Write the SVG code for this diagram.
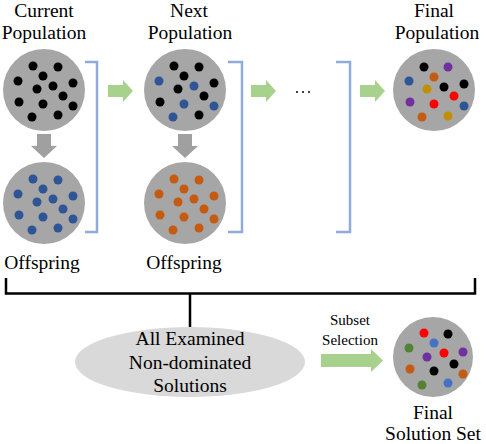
<svg xmlns="http://www.w3.org/2000/svg" width="486" height="444" viewBox="0 0 486 444">
<defs>
<style>
.t{font-family:"Liberation Serif","Times New Roman",Tinos,Times,"Nimbus Roman","Nimbus Roman No9 L",FreeSerif,"DejaVu Serif","Noto Serif",serif;font-size:19.5px;fill:#000;text-anchor:middle}
.s{font-family:"Liberation Serif","Times New Roman",Tinos,Times,"Nimbus Roman","Nimbus Roman No9 L",FreeSerif,"DejaVu Serif","Noto Serif",serif;font-size:15px;fill:#000;text-anchor:middle}
.pop{fill:#a6a6a6}
.k{fill:#000}.b{fill:#2f5597}.o{fill:#c55a11}.p{fill:#7030a0}.g{fill:#bf9000}.r{fill:#ff0000}.gr{fill:#548235}.lb{fill:#4472c4}
.br{fill:none;stroke:#8faadc;stroke-width:2.5}
.ga{fill:#a9d18e}
.da{fill:#a0a0a0}
</style>
<g id="dots13">
<circle cx="-11" cy="-24" r="4.5"/><circle cx="14" cy="-23" r="4.5"/><circle cx="-1" cy="-14" r="4.5"/>
<circle cx="-26" cy="-9" r="4.5"/><circle cx="29" cy="-7" r="4.5"/><circle cx="-7" cy="-1" r="4.5"/>
<circle cx="9" cy="-4" r="4.5"/><circle cx="19" cy="6" r="4.5"/><circle cx="-25" cy="12" r="4.5"/>
<circle cx="-1" cy="14" r="4.5"/><circle cx="29" cy="16" r="4.5"/><circle cx="-12" cy="27" r="4.5"/>
<circle cx="14" cy="25" r="4.5"/>
</g>
<path id="garrow" d="M0,-6 H15 V-11 L25,0 L15,11 V6 H0 Z"/>
<path id="darrow" d="M-7,0 H7 V12 H13 L0,24 L-13,12 H-7 Z"/>
</defs>

<g id="current-population">
<text class="t" x="44" y="17">Current</text>
<text class="t" x="44" y="39">Population</text>
<circle class="pop" cx="44" cy="90" r="41"/>
<use href="#dots13" x="44" y="90" class="k"/>
</g>

<g id="offspring-1">
<circle class="pop" cx="44" cy="203" r="41"/>
<use href="#dots13" x="44" y="203" class="b"/>
<text class="t" x="42" y="269">Offspring</text>
</g>

<g id="next-population">
<text class="t" x="189" y="17">Next</text>
<text class="t" x="190" y="39">Population</text>
<circle class="pop" cx="185" cy="90" r="41"/>
<g transform="translate(185,90)">
<circle class="k" cx="-11" cy="-24" r="4.5"/><circle class="k" cx="14" cy="-23" r="4.5"/><circle class="k" cx="-1" cy="-14" r="4.5"/>
<circle class="b" cx="-26" cy="-9" r="4.5"/><circle class="k" cx="29" cy="-7" r="4.5"/><circle class="k" cx="-7" cy="-1" r="4.5"/>
<circle class="b" cx="9" cy="-4" r="4.5"/><circle class="k" cx="19" cy="6" r="4.5"/><circle class="k" cx="-25" cy="12" r="4.5"/>
<circle class="b" cx="-1" cy="14" r="4.5"/><circle class="b" cx="29" cy="16" r="4.5"/><circle class="b" cx="-12" cy="27" r="4.5"/>
<circle class="k" cx="14" cy="25" r="4.5"/>
</g>
</g>

<g id="offspring-2">
<circle class="pop" cx="185" cy="203" r="41"/>
<use href="#dots13" x="185" y="203" class="o"/>
<text class="t" x="184" y="269">Offspring</text>
</g>

<g id="ellipsis">
<circle cx="297" cy="92" r="1" fill="#000"/><circle cx="303" cy="92" r="1" fill="#000"/><circle cx="309" cy="92" r="1" fill="#000"/>
</g>

<g id="final-population">
<text class="t" x="434" y="17">Final</text>
<text class="t" x="437" y="39">Population</text>
<circle class="pop" cx="434" cy="90" r="41"/>
<circle class="k" cx="424" cy="67" r="4.5"/><circle class="p" cx="448" cy="67" r="4.5"/><circle class="o" cx="434" cy="77" r="4.5"/>
<circle class="b" cx="409" cy="81" r="4.5"/><circle class="k" cx="464" cy="84" r="4.5"/><circle class="k" cx="444" cy="87" r="4.5"/>
<circle class="g" cx="427" cy="89" r="4.5"/><circle class="r" cx="454" cy="96" r="4.5"/><circle class="p" cx="410" cy="102" r="4.5"/>
<circle class="r" cx="434" cy="104" r="4.5"/><circle class="b" cx="464" cy="106" r="4.5"/><circle class="o" cx="422" cy="117" r="4.5"/>
<circle class="g" cx="448" cy="116" r="4.5"/>
</g>

<g id="all-examined">
<ellipse cx="190" cy="362" rx="115" ry="35" fill="#d9d9d9"/>
<text class="t" x="190" y="345">All Examined</text>
<text class="t" x="190" y="369">Non-dominated</text>
<text class="t" x="190" y="392">Solutions</text>
</g>

<g id="final-solution-set">
<circle class="pop" cx="433" cy="357" r="40"/>
<circle class="r" cx="424" cy="333" r="4.5"/><circle class="k" cx="448" cy="334" r="4.5"/><circle class="lb" cx="434" cy="343" r="4.5"/>
<circle class="gr" cx="409" cy="348" r="4.5"/><circle class="p" cx="463" cy="352" r="4.5"/><circle class="r" cx="444" cy="353" r="4.5"/>
<circle class="p" cx="427" cy="357" r="4.5"/><circle class="k" cx="454" cy="364" r="4.5"/><circle class="o" cx="410" cy="369" r="4.5"/>
<circle class="k" cx="434" cy="371" r="4.5"/><circle class="o" cx="463" cy="374" r="4.5"/><circle class="gr" cx="422" cy="385" r="4.5"/>
<circle class="lb" cx="448" cy="383" r="4.5"/>
<text class="t" x="433" y="419">Final</text>
<text class="t" x="433" y="440">Solution Set</text>
</g>

<g id="connectors">
<use href="#garrow" x="108" y="91" class="ga"/>
<use href="#garrow" x="251" y="91" class="ga"/>
<use href="#garrow" x="360" y="91" class="ga"/>
<use href="#darrow" x="44" y="134" class="da"/>
<use href="#darrow" x="185" y="134" class="da"/>
<path class="br" d="M85,62 H97 V232 H85"/>
<path class="br" d="M228,62 H242 V232 H228"/>
<path class="br" d="M336,62 H350 V232 H336"/>
<path d="M6,278 V293.5 H475 V278 M190,293.5 V327" fill="none" stroke="#000" stroke-width="2.5"/>
<path class="ga" d="M321,354 H371 V349 L383,360.5 L371,372 V367 H321 Z"/>
<text class="s" x="350" y="325">Subset</text>
<text class="s" x="350" y="345">Selection</text>
</g>
</svg>
